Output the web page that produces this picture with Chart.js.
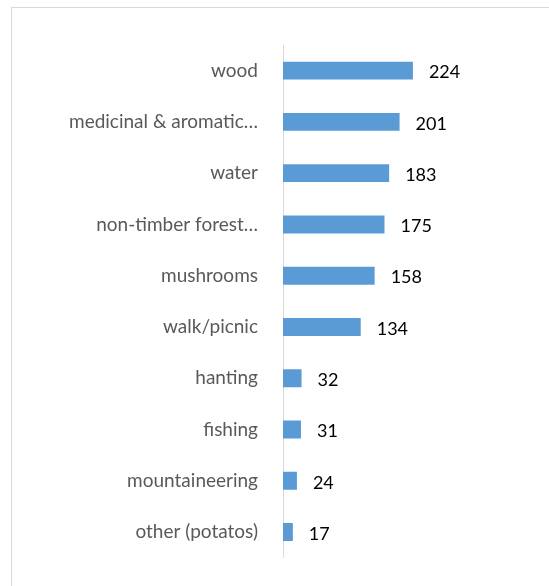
<!DOCTYPE html>
<html>
<head>
<meta charset="utf-8">
<script src="https://cdn.jsdelivr.net/npm/chart.js@4/dist/chart.umd.min.js"></script>
<style>
  body { margin: 0; overflow: hidden; background: #fff; }
  #frame { position: absolute; left: 11px; top: 7px; width: 600px; height: 640px; border: 1px solid #d9d9d9; }
  #wrap { position: absolute; left: 0; top: 0; width: 549px; height: 586px; }
</style>
</head>
<body>
<div id="frame"></div>
<div id="wrap"><canvas id="chart"></canvas></div>
<script>
const categories = ["wood", "medicinal & aromatic…", "water", "non-timber forest…", "mushrooms",
  "walk/picnic", "hanting", "fishing", "mountaineering", "other (potatos)"];
const counts = [224, 201, 183, 175, 158, 134, 32, 31, 24, 17];
const axisMax = 250;

// draws the number just right of each bar
const valueLabels = {
  id: 'valueLabels',
  afterDatasetsDraw(chart) {
    const ctx = chart.ctx;
    ctx.save();
    ctx.font = '18px Lato';
    ctx.fillStyle = '#000';
    ctx.textBaseline = 'middle';
    chart.getDatasetMeta(0).data.forEach((bar, i) => {
      ctx.fillText(counts[i], bar.x + 16, bar.y + 2);
    });
    ctx.restore();
  }
};

new Chart(document.getElementById('chart'), {
  type: 'bar',
  data: {
    labels: categories,
    datasets: [{
      data: counts,
      backgroundColor: '#5b9bd5',
      barPercentage: 0.7,
      categoryPercentage: 0.5
    }]
  },
  options: {
    indexAxis: 'y',
    responsive: true,
    maintainAspectRatio: false,
    animation: false,
    layout: { padding: { top: 45, bottom: 22, left: 0, right: 121 } },
    plugins: { legend: { display: false }, tooltip: { enabled: false } },
    scales: {
      x: { display: false, min: 0, max: axisMax },
      y: {
        grid: { display: false },
        border: { display: true, color: '#d9d9d9', width: 1 },
        ticks: { color: '#595959', font: { family: 'Lato', size: 19 }, padding: 17 },
        afterFit(scale) { scale.width = 283; }
      }
    }
  },
  plugins: [valueLabels]
});
</script>
</body>
</html>
